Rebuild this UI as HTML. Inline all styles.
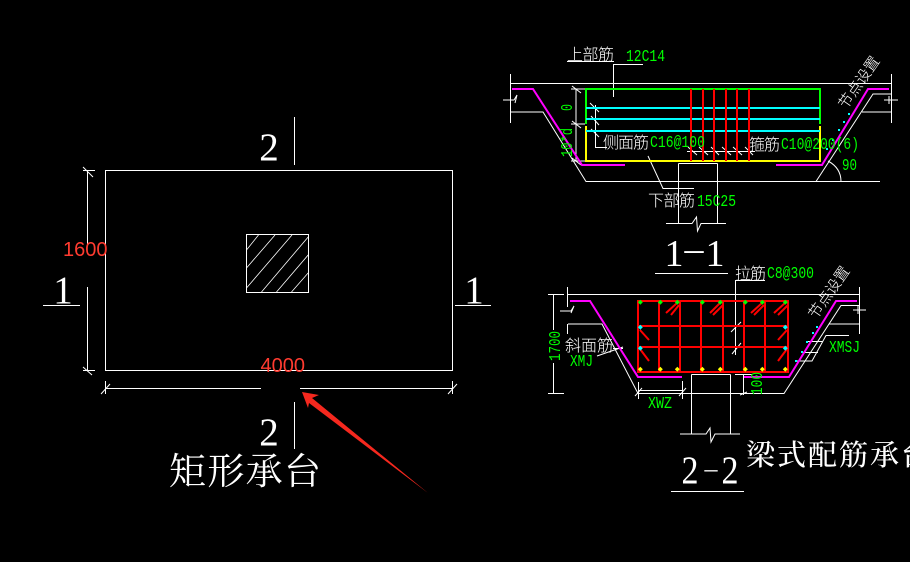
<!DOCTYPE html>
<html><head><meta charset="utf-8"><style>
html,body{margin:0;padding:0;background:#000;width:910px;height:562px;overflow:hidden}
svg{display:block}
.w{fill:none;stroke:#fff;stroke-width:1}
.c{font-family:"Liberation Serif","Noto Serif CJK SC",serif;fill:#fff}
.s{font-family:"Liberation Sans","Noto Sans CJK SC",sans-serif;fill:#fff;font-size:16px;font-weight:300}
.g{font-family:"Liberation Mono",monospace;fill:#0f0;font-size:17px}
.r{font-family:"Liberation Sans",sans-serif;fill:#ff3b30;font-size:20px}
.n{font-family:"Liberation Serif",serif;fill:#fff;font-size:39px;text-anchor:middle}
</style></head><body>
<svg width="910" height="562" viewBox="0 0 910 562" xmlns="http://www.w3.org/2000/svg">
<rect width="910" height="562" fill="#000"/>
<defs><clipPath id="h"><rect x="246.5" y="234.5" width="62" height="58"/></clipPath></defs>

<!-- Plan -->
<g class="w">
<rect x="105.5" y="170.5" width="347" height="200"/>
<rect x="246.5" y="234.5" width="62" height="58"/>
<g clip-path="url(#h)" stroke-width="0.8">
<path d="M246.500 250L258.500 235M246.500 268L275 235M246.500 288L292 235M261.500 292L309 236M276.500 292L309 254M291.500 292L309 272"/>
</g>
<path d="M87.5 170V244M87.5 287V370.5M83 170.5H95M83 370.5H95M83 167L93 177M83 367L92 375"/>
<path d="M105 388.5H261M300 388.5H453M105.5 381V394M452.5 381V394M101 394L110 384M448 394L457 384"/>
<path d="M294.5 117V165M294.5 402V449M43 305.5H80M455 305.5H491"/>
</g>
<text class="n" x="269" y="160">2</text>
<text class="n" x="269" y="445">2</text>
<text class="n" x="63" y="303">1</text>
<text class="n" x="474" y="303">1</text>
<text class="r" x="63" y="256">1600</text>
<text class="r" x="260.5" y="372">4000</text>
<path d="M302 392L319 395L312 398L428 493L309 403L308 408Z" fill="#f5281e"/>
<text class="c" x="169" y="484" font-size="37" textLength="152">矩形承台</text>

<!-- Section 1-1 -->
<g class="w">
<path d="M510.5 74V123M510 83.5H891M510 112H543L586 181.5H880M816 181.5L873 94H892M862 112H892M891.5 74V123"/>
<path d="M503 100H514L517 95L515 103M884 100H898M889 96V104"/>
<path d="M576 89V161M571 89H585M571 124H585M571 161H585M572 86L581 93M572 121L581 128M572 158L581 165"/>
<path d="M595.5 105V147.5H607M590 103L599 112M591 116L599 125M591 129L599 137"/>
<path d="M567 61.500H614M613.5 64V97M613 64.500H643"/>
<path d="M648 156L663 188.500H694"/>
<path d="M687 151.500H755M688 147L697 155M699 147L708 155M711 147L719 155M722 147L731 155M733 147L742 155M745 147L753 155"/>
<path d="M678.500 163.500V223.500M717.500 163.500V223.500M678.500 163.500H717.500"/>
<path d="M666 223.500H692L696.500 217L697.500 231L701 223.500H726"/>
<path d="M828 161Q841 168 841 181.500"/>
</g>
<path d="M512 89H533L582 165H625M776 165H822L868 89H889" fill="none" stroke="#f0f" stroke-width="2"/>
<path d="M586 124V89H820V124" fill="none" stroke="#0f0" stroke-width="2"/>
<path d="M586 126V161H820V126" fill="none" stroke="#ff0" stroke-width="2"/>
<path d="M586 108H820M586 119H820M586 131H820" stroke="#0ff" stroke-width="2"/>
<path d="M691 89V161M703 89V161M714 89V161M726 89V161M737 89V161M749 89V161" stroke="#f00" stroke-width="2"/>
<g fill="#0ff"><rect x="826" y="148" width="2" height="2"/><rect x="832" y="139" width="2" height="2"/><rect x="838" y="129" width="2" height="2"/><rect x="843" y="121" width="2" height="2"/><rect x="848" y="113" width="2" height="2"/></g>
<text class="s" x="567" y="60" textLength="47">上部筋</text>
<text class="g" x="626" y="61" textLength="39" lengthAdjust="spacingAndGlyphs">12C14</text>
<text class="s" x="603" y="148" textLength="46">侧面筋</text>
<text class="g" x="650" y="147" textLength="55" lengthAdjust="spacingAndGlyphs">C16@100</text>
<text class="s" x="749" y="150" textLength="31">箍筋</text>
<text class="g" x="781" y="149" textLength="78" lengthAdjust="spacingAndGlyphs">C10@200(6)</text>
<text class="s" x="648" y="206" textLength="47">下部筋</text>
<text class="g" x="697" y="206" textLength="39" lengthAdjust="spacingAndGlyphs">15C25</text>
<text class="g" x="842" y="170" textLength="15" lengthAdjust="spacingAndGlyphs">90</text>
<text class="g" transform="translate(572,111) rotate(-90)" textLength="7" lengthAdjust="spacingAndGlyphs">0</text>
<text class="g" transform="translate(572,157) rotate(-90)" textLength="29" lengthAdjust="spacingAndGlyphs">10*d</text>
<text class="s" transform="translate(846,110) rotate(-55)" textLength="60" fill="#ddd" style="font-size:15px">节点设置</text>
<text class="n" x="674" y="266" style="font-size:38px">1</text>
<text class="n" x="694" y="261" style="font-size:38px">–</text>
<text class="n" x="715" y="266" style="font-size:38px">1</text>
<path d="M655 273.500H728" stroke="#fff"/>

<!-- Section 2-2 -->
<g class="w">
<path d="M567.500 287V307M567.500 324V334M567 294.500H860M568 324H602L638 393.500H784L841 305.500H860M829 324H860M859.500 287V334"/>
<path d="M560 311H571L574 306L571 313M853 310H866M858 306V314"/>
<path d="M553.500 294V330M553.500 363V393M548 294.500H564M548 393.500H564"/>
<path d="M735.500 281V355M735 280.500H765M731 332L741 322M732 354L741 343"/>
<path d="M638 390.500H683M638.500 382V399M682.500 381V399M635 396L642 388M679 396L686 388"/>
<path d="M735 374.500H752M743.500 374V395M740 395L747 392"/>
<path d="M597 356L623 347M613 348.500H623"/>
<path d="M849 335.500H826L812 361H797M807 341.500H823M802 352.500H818"/>
<path d="M691.500 374.500V434M730.500 374.500V434M691.500 374.500H730.500"/>
<path d="M680 434H706L710 428L711 442L715 434H740"/>
</g>
<path d="M570 301H590L638 377H682M744 377H789L836 301H857" fill="none" stroke="#f0f" stroke-width="2"/>
<g stroke="#f00" stroke-width="2" fill="none">
<rect x="638" y="301" width="150" height="71"/>
<path d="M659 301V372M680 301V372M701 301V372M723 301V372M744 301V372M765 301V372M638 326H788M638 347H788"/>
<path d="M640 330L649 340M640 349L649 361M787 330L778 340M787 349L778 361"/>
<path d="M666 313L677 303M671 315L679 305M710 313L720 303M713 315L723 305M751 313L762 303M754 315L764 305M774 313L785 303M778 315L788 305"/>
</g>
<g fill="#0f0"><path d="M640.300 299.800l2.500 2.500-2.500 2.500-2.500-2.500zM660.300 299.800l2.500 2.500-2.500 2.500-2.500-2.500zM677.300 299.800l2.500 2.500-2.500 2.500-2.500-2.500zM702.300 299.800l2.500 2.500-2.500 2.500-2.500-2.500zM720.300 299.800l2.500 2.500-2.500 2.500-2.500-2.500zM745.300 299.800l2.500 2.500-2.500 2.500-2.500-2.500zM762.300 299.800l2.500 2.500-2.500 2.500-2.500-2.500zM785.300 299.800l2.500 2.500-2.500 2.500-2.500-2.500z"/></g>
<g fill="#ff0"><path d="M640.300 366.800l2.500 2.500-2.500 2.500-2.500-2.500zM660.300 366.800l2.500 2.500-2.500 2.500-2.500-2.500zM677.300 366.800l2.500 2.500-2.500 2.500-2.500-2.500zM702.300 366.800l2.500 2.500-2.500 2.500-2.500-2.500zM720.300 366.800l2.500 2.500-2.500 2.500-2.500-2.500zM745.300 366.800l2.500 2.500-2.500 2.500-2.500-2.500zM762.300 366.800l2.500 2.500-2.500 2.500-2.500-2.500zM785.300 366.800l2.500 2.500-2.500 2.500-2.500-2.500z"/></g>
<g fill="#0ff"><path d="M640.300 324.800l2.500 2.500-2.500 2.500-2.500-2.500zM640.300 345.800l2.500 2.500-2.500 2.500-2.500-2.500zM785.300 324.800l2.500 2.500-2.500 2.500-2.500-2.500zM785.300 345.800l2.500 2.500-2.500 2.500-2.500-2.500z"/>
<rect x="795" y="360" width="2" height="2"/><rect x="801" y="351" width="2" height="2"/><rect x="806" y="341" width="2" height="2"/><rect x="812" y="332" width="2" height="2"/><rect x="816" y="326" width="2" height="2"/></g>
<text class="s" x="735" y="279" textLength="31">拉筋</text>
<text class="g" x="767" y="278" textLength="47" lengthAdjust="spacingAndGlyphs">C8@300</text>
<text class="s" x="565" y="351" textLength="48">斜面筋</text>
<text class="g" x="570" y="366" textLength="23" lengthAdjust="spacingAndGlyphs">XMJ</text>
<text class="g" x="648" y="408" textLength="24" lengthAdjust="spacingAndGlyphs">XWZ</text>
<text class="g" x="829" y="352" textLength="31" lengthAdjust="spacingAndGlyphs">XMSJ</text>
<text class="g" transform="translate(560,361) rotate(-90)" textLength="30" lengthAdjust="spacingAndGlyphs">1700</text>
<text class="g" transform="translate(762,395) rotate(-90)" textLength="23" lengthAdjust="spacingAndGlyphs">100</text>
<text class="s" transform="translate(816,320) rotate(-55)" textLength="60" fill="#ddd" style="font-size:15px">节点设置</text>
<text class="n" x="690" y="483" style="font-size:39px" textLength="17" lengthAdjust="spacingAndGlyphs">2</text>
<text class="n" x="711" y="477" style="font-size:26px">–</text>
<text class="n" x="730" y="483" style="font-size:39px" textLength="17" lengthAdjust="spacingAndGlyphs">2</text>
<path d="M671 491.500H744" stroke="#fff"/>
<text class="c" x="746" y="465" font-size="29" font-weight="500" style="letter-spacing:2px">梁式配筋承台</text>
</svg>
</body></html>
